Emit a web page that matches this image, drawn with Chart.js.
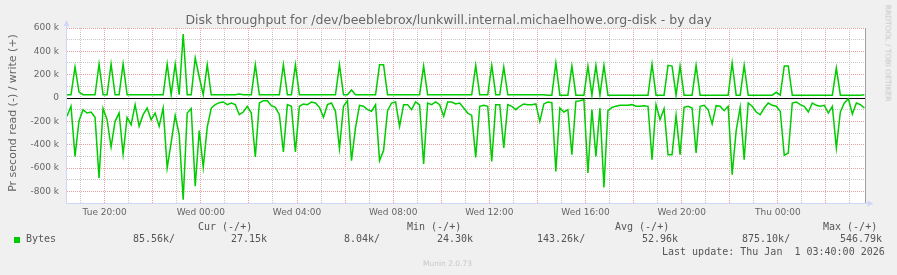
<!DOCTYPE html>
<html>
<head>
<meta charset="utf-8">
<script src="https://cdn.jsdelivr.net/npm/chart.js@4"></script>
<style>
body { margin: 0; background: #f0f0f0; }
#wrap { position: relative; width: 897px; height: 275px; overflow: hidden; font-family: "DejaVu Sans"; color: #666; }
canvas { position: absolute; left: 0; top: 0; }
.t { position: absolute; white-space: pre; }
.m { font-family: "DejaVu Sans Mono"; font-size: 10px; line-height: 12px; color: #555; }
</style>
</head>
<body>
<div id="wrap">
  <canvas id="disk" width="897" height="275"></canvas>
  <div class="t" style="left:0;top:12px;width:897px;text-align:center;font-size:12.5px;line-height:15px;">Disk throughput for /dev/beeblebrox/lunkwill.internal.michaelhowe.org-disk - by day</div>
  <div class="t" style="left:12px;top:113px;font-size:11px;line-height:13px;transform:translate(-50%,-50%) rotate(-90deg);">Pr second read (-) / write (+)</div>
  <div class="t" style="left:888px;top:53px;font-size:7.5px;line-height:9px;color:#c4c4c4;transform:translate(-50%,-50%) rotate(90deg);">RRDTOOL / TOBI OETIKER</div>
  <div id="legend"></div>
  <div class="t" style="left:423px;top:259px;font-size:7.5px;line-height:10px;color:#c8c8c8;">Munin 2.0.73</div>
</div>
<script>
// samples every 10 minutes, first at Tue 18:26 (hours counted from Tue 00:00)
const firstHour = 18 + 26 / 60;
const stepHour = 1 / 6;
const xMin = firstHour;
const xMax = 51 + 40 / 60;

// write (+), k bytes/s
const writeK = [
  28, 28, 266, 50, 28, 28, 28, 28, 291, 28,
  28, 291, 28, 28, 291, 28, 28, 28, 28, 28,
  28, 28, 28, 28, 28, 291, 28, 291, 28, 549,
  28, 28, 343, 180, 28, 286, 28, 28, 28, 28,
  28, 28, 28, 35, 28, 28, 28, 286, 28, 28,
  28, 28, 28, 28, 286, 28, 28, 286, 28, 28,
  28, 28, 28, 28, 28, 28, 28, 28, 286, 28,
  28, 69, 28, 28, 28, 28, 28, 28, 285, 285,
  28, 28, 28, 28, 28, 28, 28, 28, 28, 274,
  28, 28, 28, 28, 28, 28, 28, 28, 28, 28,
  28, 28, 280, 28, 28, 28, 280, 28, 28, 266,
  28, 28, 28, 28, 28, 28, 28, 28, 28, 28,
  24, 24, 300, 24, 24, 24, 274, 24, 24, 24,
  274, 24, 280, 24, 280, 24, 24, 24, 24, 24,
  24, 24, 24, 24, 24, 24, 290, 24, 24, 24,
  280, 274, 24, 274, 24, 24, 24, 280, 24, 24,
  24, 24, 24, 24, 24, 24, 300, 24, 24, 280,
  24, 24, 24, 24, 24, 24, 24, 49, 24, 274,
  274, 24, 24, 24, 24, 24, 24, 24, 24, 24,
  24, 24, 257, 24, 24, 24, 24, 24, 24, 27
];

// read (-), k bytes/s
const readK = [
  -157, -71, -500, -194, -100, -129, -120, -166, -686, -90,
  -186, -420, -200, -129, -480, -166, -229, -57, -243, -143,
  -86, -186, -129, -243, -86, -600, -380, -150, -314, -871,
  -129, -91, -757, -280, -594, -250, -86, -57, -40, -34,
  -57, -43, -57, -143, -120, -71, -129, -506, -43, -23,
  -23, -66, -80, -143, -463, -57, -71, -463, -71, -51,
  -57, -34, -43, -80, -166, -57, -43, -114, -434, -71,
  -23, -537, -257, -63, -71, -100, -114, -57, -537, -450,
  -109, -43, -34, -243, -57, -57, -100, -34, -60, -566,
  -43, -57, -34, -57, -157, -34, -34, -51, -43, -86,
  -129, -149, -509, -71, -63, -71, -543, -57, -57, -429,
  -57, -71, -100, -71, -51, -57, -57, -51, -200, -51,
  -34, -40, -629, -86, -120, -100, -486, -29, -23, -14,
  -643, -100, -500, -86, -766, -109, -80, -71, -63, -63,
  -63, -57, -71, -71, -66, -71, -529, -57, -186, -91,
  -486, -486, -149, -486, -80, -71, -86, -471, -71, -63,
  -100, -223, -66, -71, -109, -71, -657, -280, -80, -529,
  -43, -71, -120, -143, -86, -43, -63, -71, -114, -491,
  -471, -43, -34, -57, -71, -120, -43, -63, -71, -63,
  -129, -71, -429, -120, -43, -6, -137, -43, -57, -86
];

const hourTicks = [19, 20, 21, 22, 23, 24, 25, 26, 27, 28, 29, 30, 31, 32, 33, 34, 35, 36,
  37, 38, 39, 40, 41, 42, 43, 44, 45, 46, 47, 48, 49, 50, 51];
const xLabelHours = [20, 24, 28, 32, 36, 40, 44, 48];
const xLabels = ['Tue 20:00', 'Wed 00:00', 'Wed 04:00', 'Wed 08:00', 'Wed 12:00', 'Wed 16:00', 'Wed 20:00', 'Thu 00:00'];

const yTicks = [-900, -800, -700, -600, -500, -400, -300, -200, -100, 0, 100, 200, 300, 400, 500, 600];
const yLabelValues = [-800, -600, -400, -200, 0, 200, 400, 600];
const yLabels = ['-800 k', '-600 k', '-400 k', '-200 k', '0', '200 k', '400 k', '600 k'];

// legend rows: [text, left px]
const legendHead = [['Cur (-/+)', 198], ['Min (-/+)', 407], ['Avg (-/+)', 615], ['Max (-/+)', 823]];
const legendVals = [['Bytes', 26], ['85.56k/', 133], ['27.15k', 231], ['8.04k/', 344], ['24.30k', 437],
  ['143.26k/', 537], ['52.96k', 642], ['875.10k/', 742], ['546.79k', 840]];
const lastUpdate = 'Last update: Thu Jan  1 03:40:00 2026';

const lineColor = '#00cc00';
const minorGrid = '#c8c8c8';
const majorGrid = '#e8a0a0';
const axisColor = '#cfd6f8';

function buildLegend() {
    const box = document.getElementById('legend');
    let html = '';
    legendHead.forEach(([t, x]) => { html += `<div class="t m" style="left:${x}px;top:221px;">${t}</div>`; });
    legendVals.forEach(([t, x]) => { html += `<div class="t m" style="left:${x}px;top:233px;">${t}</div>`; });
    html += `<div class="t m" style="left:662px;top:246px;">${lastUpdate}</div>`;
    html += `<div class="t" style="left:14px;top:237px;width:6px;height:6px;background:${lineColor};"></div>`;
    box.innerHTML = html;
}

const frame = {
    id: 'frame',
    beforeDraw(chart) {
        const { ctx, chartArea: a } = chart;
        ctx.save();
        ctx.fillStyle = '#ffffff';
        ctx.fillRect(a.left, a.top, a.right - a.left, a.bottom - a.top);
        ctx.restore();
    },
    beforeDatasetsDraw(chart) {
        const { ctx, chartArea: a } = chart;
        const y0 = Math.round(chart.scales.y.getPixelForValue(0)) + 0.5;
        ctx.save();
        ctx.strokeStyle = '#000000';
        ctx.lineWidth = 1;
        ctx.beginPath();
        ctx.moveTo(a.left, y0);
        ctx.lineTo(a.right, y0);
        ctx.stroke();
        ctx.restore();
    },
    afterDraw(chart) {
        const { ctx, chartArea: a } = chart;
        const l = Math.round(a.left) - 0.5, b = Math.round(a.bottom) + 0.5, r = Math.round(a.right) - 0.5;
        ctx.save();
        ctx.lineWidth = 1;
        ctx.strokeStyle = '#a0a0a0';
        ctx.beginPath();
        ctx.moveTo(r, a.top);
        ctx.lineTo(r, b);
        ctx.stroke();
        ctx.strokeStyle = axisColor;
        ctx.beginPath();
        ctx.moveTo(l, b);
        ctx.lineTo(l, a.top - 4);
        ctx.moveTo(l, b);
        ctx.lineTo(r + 3, b);
        ctx.stroke();
        ctx.fillStyle = axisColor;
        ctx.beginPath();
        ctx.moveTo(l, a.top - 8);
        ctx.lineTo(l - 3, a.top - 2);
        ctx.lineTo(l + 3, a.top - 2);
        ctx.closePath();
        ctx.fill();
        ctx.beginPath();
        ctx.moveTo(r + 8, b);
        ctx.lineTo(r + 2, b - 3);
        ctx.lineTo(r + 2, b + 3);
        ctx.closePath();
        ctx.fill();
        ctx.restore();
    }
};

function renderChart() {
    const ctx = document.getElementById('disk');
    const toPoints = arr => arr.map((v, i) => ({ x: firstHour + i * stepHour, y: v }));
    const lineSet = data => ({
        data: data,
        borderColor: lineColor,
        borderWidth: 1.5,
        pointRadius: 0,
        tension: 0,
        fill: false
    });

    new Chart(ctx, {
        type: 'line',
        data: { datasets: [lineSet(toPoints(writeK)), lineSet(toPoints(readK))] },
        options: {
            responsive: false,
            animation: false,
            layout: { padding: { left: 0, top: 28, right: 31, bottom: 52 } },
            plugins: { legend: { display: false }, tooltip: { enabled: false } },
            scales: {
                x: {
                    type: 'linear',
                    min: xMin,
                    max: xMax,
                    afterBuildTicks: s => { s.ticks = hourTicks.map(v => ({ value: v })); },
                    afterFit: s => { s.height = 20; },
                    ticks: {
                        autoSkip: false,
                        maxRotation: 0,
                        padding: 4,
                        color: '#666',
                        font: { family: 'DejaVu Sans', size: 9 },
                        callback: v => {
                            const k = xLabelHours.indexOf(v);
                            return k >= 0 ? xLabels[k] : '';
                        }
                    },
                    grid: {
                        drawTicks: false,
                        lineWidth: 1,
                        color: c => (c.tick && c.tick.value % 2 === 0) ? majorGrid : minorGrid
                    },
                    border: { display: false, dash: [1, 1] }
                },
                y: {
                    min: -900,
                    max: 600,
                    afterBuildTicks: s => { s.ticks = yTicks.map(v => ({ value: v })); },
                    afterFit: s => { s.width = 67; },
                    ticks: {
                        autoSkip: false,
                        padding: 8,
                        color: '#666',
                        font: { family: 'DejaVu Sans', size: 9 },
                        callback: v => {
                            const k = yLabelValues.indexOf(v);
                            return k >= 0 ? yLabels[k] : '';
                        }
                    },
                    grid: {
                        drawTicks: false,
                        lineWidth: 1,
                        color: c => (c.tick && c.tick.value % 200 === 0) ? majorGrid : minorGrid
                    },
                    border: { display: false, dash: [1, 1] }
                }
            }
        },
        plugins: [frame]
    });
}

buildLegend();
renderChart();
</script>
</body>
</html>
